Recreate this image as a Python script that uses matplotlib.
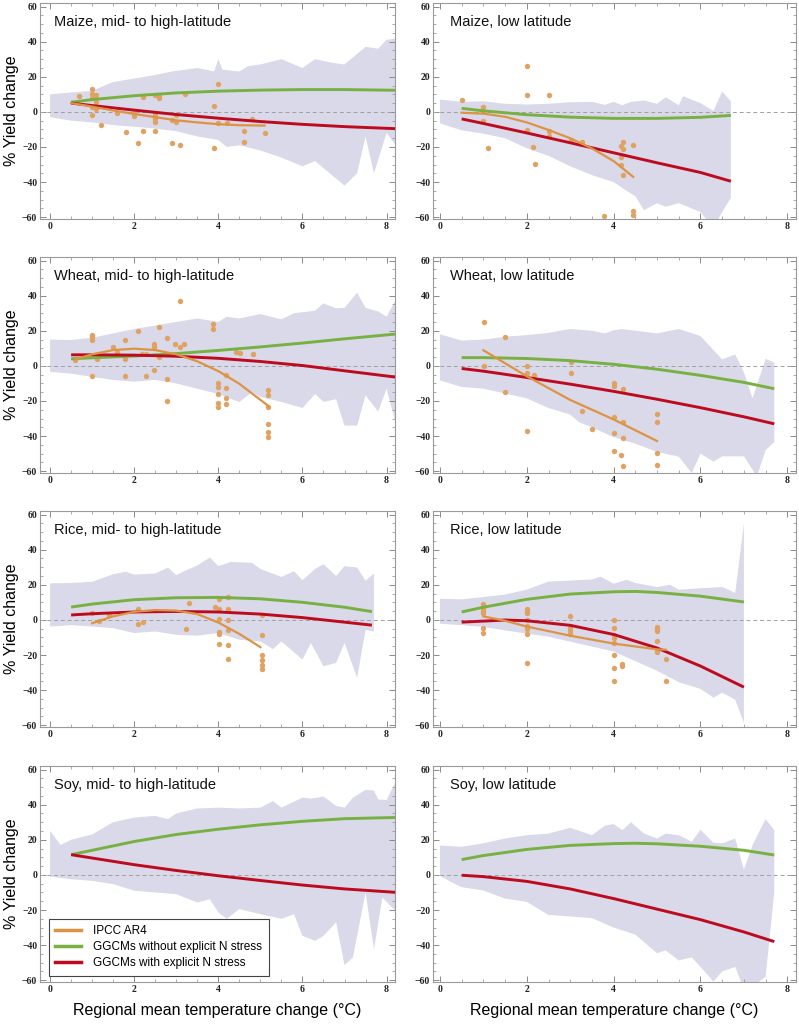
import numpy as np
import matplotlib
matplotlib.use("Agg")
from matplotlib import pyplot as plt
from matplotlib.ticker import MultipleLocator

# colours
band_col = '#d9d9ea'
green = '#78b041'
red = '#bd0a1e'
dot_col = '#e0a263'
ipcc_col = '#dc9444'

# ---------------- Maize, mid- to high-latitude ----------------
m1_hx = [0, 0.5, 1, 1.5, 2, 2.5, 2.9, 3.5, 3.9, 4.0, 4.1, 4.5, 4.7, 5, 5.5, 6, 6.3, 6.7, 7, 7.3, 7.5, 7.8, 8, 8.25]
m1_hi = [10, 11, 12, 17, 19, 21, 23, 25, 23, 30, 24, 23, 26, 27, 30, 25, 30, 28, 27, 33, 37, 36, 41, 42]
m1_lx = [0, 0.5, 1, 1.5, 2, 2.5, 3, 3.5, 4, 4.2, 4.5, 5, 5.5, 6, 6.3, 6.5, 7, 7.3, 7.5, 7.7, 8, 8.25]
m1_lo = [-3, -5, -6, -7.5, -8.5, -9.5, -11, -14, -16, -20, -19, -22, -26, -31, -28, -32, -42, -35, -14, -35, -12, -20]
m1_cx = [0.5, 1, 2, 3, 4, 5, 6, 7, 8.25]
m1_green = [5.5, 7, 9.2, 10.8, 11.8, 12.4, 12.7, 12.7, 12.3]
m1_red = [5, 3.6, 1, -1.5, -3.6, -5.5, -7.1, -8.4, -9.6]
m1_ix = [0.5, 1, 1.5, 2, 2.5, 3, 3.5, 4, 4.5, 5.1]
m1_ipcc = [5, 3, 0.8, -1.2, -3, -4.8, -6, -7, -7.6, -7.8]
m1_px = [0.69, 1.0, 1.0, 1.0, 1.0, 1.0, 1.1, 1.1, 1.1, 1.2, 1.6, 1.8, 2.0, 2.0, 2.1, 2.2, 2.2,
         2.5, 2.5, 2.5, 2.5, 2.5, 2.6, 2.6, 2.9, 2.9, 3.0, 3.0, 3.1, 3.2, 3.9, 3.9, 4.0, 4.0,
         4.2, 4.6, 4.6, 4.8, 5.1]
m1_py = [9.1, 13.3, 10.4, 8.1, 2.5, -1.9, 9.5, 5.7, 1.9, -7.2, -0.9, -11.7, -0.6, -2.5, -18, 8.5, -11,
         9.5, -1.9, -3.8, -5.7, -10.9, 9.1, 8.1, -17.6, -4.7, -1.9, -5.7, -18.6, 10.4, 3.2, -20.3, 15.7, -6.2,
         -6.6, -10.9, -17, -3.8, -12.3]

# ---------------- Maize, low latitude ----------------
m2_hx = [0, 0.5, 1, 1.5, 2, 2.5, 3, 3.5, 3.8, 4, 4.2, 4.4, 4.7, 5, 5.2, 5.5, 5.6, 6, 6.3, 6.5, 6.7]
m2_hi = [7, 5.7, 6, 4.6, 4.2, 4.6, 5.5, 5.7, 4, 5.7, 3.8, 5.7, 6.5, 4.6, 8.3, 3.8, 8.9, 5, 0.5, 11.6, 6]
m2_lx = [0, 0.5, 1, 1.5, 2, 2.5, 3, 3.5, 4, 4.3, 4.5, 4.7, 5, 5.2, 5.5, 6, 6.3, 6.5, 6.7]
m2_lo = [-6.5, -10.5, -12.4, -15, -20.7, -25, -31, -36, -40, -45, -48, -56, -52, -54, -52, -57, -66, -57, -49]
m2_cx = [0.5, 1, 2, 3, 4, 5, 6, 6.7]
m2_green = [2, 0.6, -1.6, -3, -3.7, -3.7, -3.1, -2]
m2_red = [-4, -6.6, -12, -17.6, -23.3, -29, -34.5, -39.5]
m2_ix = [0.5, 1, 1.5, 2, 2.5, 3, 3.5, 4, 4.45]
m2_ipcc = [-0.5, -1, -2.8, -6, -10.3, -15, -20.8, -28, -37]
m2_px = [0.5, 1.0, 1.0, 1.1, 2.0, 2.0, 2.0, 2.15, 2.2, 2.5, 2.5, 2.5, 3.02, 3.28, 3.78,
         4.16, 4.21, 4.21, 4.16, 4.18, 4.21, 4.45, 4.45, 4.45]
m2_py = [6.5, 3, -5, -20.7, 26, 9.4, -10.5, -20, -29.7, 9.8, -11, -13.8, -16, -17.4, -59.4,
         -19.4, -17.4, -21.2, -25.5, -30.3, -35.8, -18.8, -56.3, -58.5]

# ---------------- Wheat, mid- to high-latitude ----------------
w1_hx = [0, 0.5, 1, 1.5, 2, 2.5, 3, 3.5, 4, 4.2, 4.5, 5, 5.5, 5.8, 6.3, 6.5, 6.8, 7, 7.3, 7.5, 7.8, 8, 8.25]
w1_hi = [15, 14.7, 16, 18.5, 21, 23, 25, 27, 25, 28, 27, 29.5, 26.5, 30, 31.4, 35.6, 32.8, 33, 41.7, 33, 31, 28, 39]
w1_lx = [0, 0.5, 1, 1.5, 2, 2.5, 3, 3.5, 4, 4.5, 4.8, 5, 5.5, 6, 6.3, 6.5, 6.8, 7, 7.3, 7.5, 7.8, 8, 8.25]
w1_lo = [-3.4, -4.4, -6.3, -8, -9, -8, -10, -13, -16, -20.6, -15, -17.7, -20.5, -24, -16, -20.5, -19, -34, -34,
         -16.8, -26, -13, -36]
w1_cx = [0.5, 1, 2, 3, 4, 5, 6, 7, 8.25]
w1_green = [4, 4.6, 5.6, 7, 8.8, 10.8, 13, 15.4, 18.2]
w1_red = [6.3, 6.3, 6.1, 5.5, 4.3, 2.5, 0.2, -2.8, -6.5]
w1_ix = [0.6, 1, 1.5, 2, 2.5, 3, 3.5, 4, 4.5, 5.2]
w1_ipcc = [3.8, 6.6, 9, 9.8, 9, 6.6, 2.6, -3, -10.2, -23]
w1_px = [0.59, 0.99, 0.99, 0.99, 0.99, 1.12, 1.49, 1.58, 1.79, 1.79, 1.79, 2.09, 2.19, 2.28, 2.28,
         2.48, 2.48, 2.48, 2.58, 2.58, 2.78, 2.78, 2.78, 2.98, 3.08, 3.08, 3.19, 3.88, 3.88,
         3.98, 3.98, 3.98, 3.98, 3.98, 4.18, 4.18, 4.18, 4.18, 4.43, 4.52, 4.82,
         5.18, 5.18, 5.18, 5.18, 5.18, 5.18]
w1_py = [3.6, 17.5, 16.6, 15, -5.9, 4.2, 10.9, 8, 15, 4.2, -5.9, 20, 6.5, -5.9, 6.5,
         12.4, 10.9, -2.5, 22.3, 4.8, 15.6, -7.2, -20, 12.4, 10.9, 37.1, 12.4, 23.6, 20.8,
         -10, -12, -16.2, -21.1, -23.4, -5.3, -12.4, -18.1, -21.5, 8, 7.4, 7,
         -13.9, -16.8, -23.4, -33, -37.7, -40.6]

# ---------------- Wheat, low latitude ----------------
w2_hx = [0, 0.5, 1, 1.5, 2, 2.5, 3, 3.5, 3.8, 4, 4.2, 4.5, 5, 5.5, 6, 6.5, 6.8, 7, 7.2, 7.5, 7.7]
w2_hi = [18, 14.4, 15, 16.6, 17.5, 18.8, 21, 20, 18.5, 20.3, 21, 20, 18.5, 21, 17, 3.7, 6.5, -3.7, -18.5, 4, 1.8]
w2_lx = [0, 0.5, 1, 1.5, 2, 2.5, 3, 3.2, 3.5, 4, 4.5, 5, 5.5, 5.8, 6, 6.3, 6.5, 7, 7.3, 7.5, 7.7]
w2_lo = [-8.3, -12, -13, -15.7, -18.5, -24, -27.7, -32, -35, -40.6, -44.3, -49, -51.7, -61, -50, -54.5,
         -51.5, -51.5, -63, -48, -43.4]
w2_cx = [0.5, 1, 2, 3, 4, 5, 6, 7, 7.7]
w2_green = [4.7, 4.7, 4.2, 3, 0.9, -1.9, -5.4, -9.4, -13]
w2_red = [-1.5, -3, -6.6, -10.4, -14.5, -19, -23.8, -29, -33]
w2_ix = [1, 2, 3, 4, 5]
w2_ipcc = [8.9, -5.9, -19.4, -30.5, -42.8]
w2_px = [1.02, 1.02, 1.5, 1.5, 2.0, 2.0, 2.0, 2.16, 3.02, 3.02, 3.28, 3.51, 4.0, 4.0, 4.0, 4.0, 4.0,
         4.17, 4.21, 4.21, 4.21, 4.21, 5.0, 5.0, 5.0, 5.0]
w2_py = [25, 0, 16.2, -14.8, 0, -4, -37, -5, 2.2, -4, -25.8, -35.8, -10, -11.6, -29, -38.2, -48.2,
         -50.8, -12.9, -32, -41, -57.2, -27.3, -32.1, -49.8, -56.3]

# ---------------- Rice, mid- to high-latitude ----------------
r1_hx = [0, 0.5, 1, 1.5, 1.8, 2, 2.5, 2.8, 3, 3.3, 3.5, 3.8, 4, 4.3, 4.8, 5, 5.5, 5.8, 6, 6.3, 6.5, 6.8, 7,
         7.3, 7.5, 7.7]
r1_hi = [20.8, 21, 21.7, 26, 27.4, 25.8, 26.4, 29.8, 25.5, 29, 31, 35.5, 30.6, 33, 32.5, 29, 24.5, 27.7, 22.6,
         29, 31.7, 25, 30.6, 29.8, 22.3, 26.4]
r1_lx = [0, 0.5, 1, 1.5, 2, 2.5, 3, 3.5, 4, 4.5, 5, 5.3, 5.5, 6, 6.2, 6.5, 6.8, 7, 7.3, 7.5, 7.7]
r1_lo = [-3.8, -3, -3.8, -4.7, -7.5, -6.6, -8.5, -9, -7.5, -11.3, -12.3, -16.6, -12.3, -22.6, -13.2, -26.4,
         -24.5, -13.2, -33, -5.7, -6.6]
r1_cx = [0.5, 1, 2, 3, 4, 5, 6, 7, 7.65]
r1_green = [7.3, 9, 11.5, 12.6, 12.8, 12, 10, 7.2, 4.7]
r1_red = [2.8, 3.5, 4.5, 4.8, 4.5, 3.3, 1.3, -1.3, -3]
r1_ix = [1, 1.5, 2, 2.5, 3, 3.5, 4, 4.5, 5]
r1_ipcc = [-1.9, 2, 4.6, 5.6, 5.3, 3.3, -1.5, -8, -15.5]
r1_px = [1.0, 1.16, 1.41, 2.1, 2.1, 2.22, 3.22, 3.31, 3.91, 4.01, 4.01, 4.01, 4.01, 4.01, 4.01,
         4.22, 4.22, 4.22, 4.22, 4.22, 4.22, 5.03, 5.03, 5.03, 5.03, 5.03, 5.03]
r1_py = [3.8, -0.6, 2.6, 6, -2.3, -1.1, -5.1, 9.8, 7.5, 11.7, 6, 0.6, -7, -7.9, -13.8,
         12.8, 6, 0, -5.7, -14.5, -22, 2.8, -8.5, -19.8, -22.6, -25.5, -27.9]

# ---------------- Rice, low latitude ----------------
r2_hx = [0, 0.5, 1, 1.5, 2, 2.5, 3, 3.5, 3.7, 4, 4.3, 4.5, 5, 5.3, 5.5, 6, 6.5, 6.8, 7.0]
r2_hi = [12, 11.7, 13, 14.4, 17.2, 21.8, 22.4, 23, 24.6, 20.6, 22.8, 21, 18.7, 20, 17.2, 18, 18.7, 15.4, 55]
r2_lx = [0, 0.5, 1, 1.5, 2, 2.5, 3, 3.5, 4, 4.5, 5, 5.5, 6, 6.3, 6.5, 6.8, 7.0]
r2_lo = [-2.2, -3, -4, -6, -7.8, -9.6, -12.4, -15.2, -18, -23.5, -29, -35.5, -39.3, -44.3, -41.5, -45.4, -58.7]
r2_gx = [0.5, 1, 2, 3, 4, 4.5, 5, 6, 7]
r2_green = [4.5, 7.2, 11.7, 14.7, 16, 16.2, 15.6, 13.5, 10.2]
r2_rx = [0.5, 1, 1.5, 2, 3, 4, 5, 6, 7]
r2_red = [-1.3, -0.7, -0.1, -0.5, -3.1, -8.3, -16, -26.3, -38.3]
r2_ix = [1, 1.5, 2, 3, 4, 5, 5.2]
r2_ipcc = [2, -0.5, -3.8, -9, -13.5, -16.8, -17]
r2_px = [1.0, 1.0, 1.0, 1.0, 1.0, 1.0, 1.0, 2.0, 2.0, 2.0, 2.0, 2.0, 2.0, 2.0, 2.0,
         3.0, 3.0, 3.0, 3.0, 4.0, 4.0, 4.0, 4.0, 4.0, 4.0, 4.0, 4.0, 4.2, 4.2,
         5.0, 5.0, 5.0, 5.0, 5.0, 5.0, 5.2, 5.2]
r2_py = [9.3, 8, 6.5, 5.2, 3.9, -4.6, -7.2, 6.1, 5.2, 3.9, 0, -3.5, -5.4, -8.1, -24.8,
         2, -4.6, -6.3, -7.8, 0, -4.6, -8.7, -10.5, -13, -19.8, -27.2, -35, -25, -26.1,
         -4, -5.4, -6.5, -12, -18.3, -17.6, -22, -35]

# ---------------- Soy, mid- to high-latitude ----------------
s1_hx = [0, 0.25, 0.5, 1, 1.5, 2, 2.5, 2.8, 3, 3.5, 4, 4.5, 5, 5.3, 5.5, 6, 6.2, 6.5, 6.8, 7, 7.2, 7.5,
         7.7, 7.8, 8, 8.25]
s1_hi = [25, 17, 20, 23, 30, 32.6, 33.6, 31.7, 35, 37.8, 38.3, 37.8, 38.3, 42, 38.3, 44, 43.4, 44.6, 39.3,
         38.3, 44, 48.4, 48, 43, 42.6, 54.5]
s1_lx = [0, 0.5, 1, 1.5, 2, 2.5, 3, 3.5, 3.8, 4, 4.2, 4.5, 5, 5.5, 5.8, 6, 6.3, 6.5, 6.8, 7, 7.2, 7.5,
         7.7, 7.9, 8.25]
s1_lo = [-1, -2.5, -3.4, -5.3, -9, -10, -11, -15.7, -13.9, -21.4, -25, -19.5, -22.4, -25, -22.4, -34.7,
         -37.6, -34.7, -27, -51.4, -47, -10, -42.3, -12.9, -21.4]
s1_cx = [0.5, 1, 2, 3, 4, 5, 6, 7, 8.25]
s1_green = [11.5, 14, 19, 23, 26, 28.5, 30.5, 32, 32.7]
s1_red = [11.5, 9.6, 5.8, 2.5, -0.5, -3.2, -5.8, -8, -10]

# ---------------- Soy, low latitude ----------------
s2_hx = [0, 0.5, 1, 1.5, 2, 2.5, 3, 3.5, 3.8, 4, 4.2, 4.4, 4.7, 5, 5.2, 5.5, 5.8, 6, 6.3, 6.5, 6.8, 7,
         7.2, 7.5, 7.7]
s2_hi = [16.7, 16, 18, 20.7, 22.6, 23.5, 26.8, 22.6, 28, 29, 25.4, 30, 23.5, 20.7, 23.5, 22.6, 18.9, 25.7,
         18.3, 18, 20.7, 3, 17, 31.8, 25.4]
s2_lx = [0, 0.25, 0.5, 1, 1.5, 2, 2.5, 3, 3.5, 4, 4.5, 5, 5.2, 5.5, 5.8, 6, 6.3, 6.5, 6.8, 7, 7.3, 7.5, 7.7]
s2_lo = [-0.5, -4, -7, -8.9, -13.5, -15.4, -22.8, -23.7, -24.6, -30, -34, -44.6, -43, -48.7, -47, -52.4,
         -60.7, -55, -52.4, -65, -61.7, -58, -9.8]
s2_gx = [0.5, 1, 2, 3, 4, 4.5, 5, 6, 7, 7.7]
s2_green = [8.7, 11, 14.5, 16.8, 17.8, 18, 17.7, 16.3, 14, 11.3]
s2_rx = [0.5, 1, 2, 3, 4, 5, 6, 7, 7.7]
s2_red = [-0.2, -1, -3.7, -8, -13.5, -19.5, -25.5, -32.5, -38]

titles = ["Maize, mid- to high-latitude", "Maize, low latitude",
          "Wheat, mid- to high-latitude", "Wheat, low latitude",
          "Rice, mid- to high-latitude", "Rice, low latitude",
          "Soy, mid- to high-latitude", "Soy, low latitude"]

panels = [
    (m1_hx, m1_hi, m1_lx, m1_lo, m1_cx, m1_green, m1_cx, m1_red, m1_ix, m1_ipcc, m1_px, m1_py),
    (m2_hx, m2_hi, m2_lx, m2_lo, m2_cx, m2_green, m2_cx, m2_red, m2_ix, m2_ipcc, m2_px, m2_py),
    (w1_hx, w1_hi, w1_lx, w1_lo, w1_cx, w1_green, w1_cx, w1_red, w1_ix, w1_ipcc, w1_px, w1_py),
    (w2_hx, w2_hi, w2_lx, w2_lo, w2_cx, w2_green, w2_cx, w2_red, w2_ix, w2_ipcc, w2_px, w2_py),
    (r1_hx, r1_hi, r1_lx, r1_lo, r1_cx, r1_green, r1_cx, r1_red, r1_ix, r1_ipcc, r1_px, r1_py),
    (r2_hx, r2_hi, r2_lx, r2_lo, r2_gx, r2_green, r2_rx, r2_red, r2_ix, r2_ipcc, r2_px, r2_py),
    (s1_hx, s1_hi, s1_lx, s1_lo, s1_cx, s1_green, s1_cx, s1_red, None, None, None, None),
    (s2_hx, s2_hi, s2_lx, s2_lo, s2_gx, s2_green, s2_rx, s2_red, None, None, None, None),
]

fig = plt.figure(figsize=(7.99, 10.26), dpi=100)
W, H = 799.0, 1026.0
col_left = [40, 433]
col_right = [395, 796]
row_top = [3, 257, 511, 766]
ax_h = 216
xlims = [(-0.24, 8.2), (-0.16, 8.2)]

for k, p in enumerate(panels):
    hx, hi, lx, lo, gx, gy, rx, ry, ix, iy, px, py = p
    r, c = divmod(k, 2)
    ax = fig.add_axes([col_left[c] / W, 1 - (row_top[r] + ax_h) / H,
                       (col_right[c] - col_left[c]) / W, ax_h / H])
    ax.fill(np.r_[hx, lx[::-1]], np.r_[hi, lo[::-1]], color=band_col, lw=0, zorder=1)
    ax.axhline(0, color='#a0a0a0', lw=0.7, ls=(0, (4, 3)), zorder=2)
    if px is not None:
        ax.scatter(px, py, s=15, color=dot_col, lw=0, zorder=3)
    ax.plot(gx, gy, color=green, lw=2.1, zorder=4, solid_capstyle='butt')
    ax.plot(rx, ry, color=red, lw=2.1, zorder=4, solid_capstyle='butt')
    if ix is not None:
        ax.plot(ix, iy, color=ipcc_col, lw=1.6, zorder=5)

    ax.set_xlim(*xlims[c])
    ax.set_ylim(-61, 62)
    ax.xaxis.set_major_locator(MultipleLocator(2))
    ax.xaxis.set_minor_locator(MultipleLocator(0.5))
    ax.yaxis.set_major_locator(MultipleLocator(20))
    ax.yaxis.set_minor_locator(MultipleLocator(5))
    ax.tick_params(which='both', direction='in', top=True, right=True,
                   color='#8a8a8a', labelsize=7, pad=2)
    ax.tick_params(which='major', length=4, width=0.7)
    ax.tick_params(which='minor', length=2, width=0.5)
    for lab in ax.get_xticklabels() + ax.get_yticklabels():
        lab.set_family('Liberation Serif')
        lab.set_fontweight('bold')
        lab.set_color('#222222')
    for s in ax.spines.values():
        s.set_color('#9a9a9a')
        s.set_linewidth(0.8)

    ax.text(0.04 if c == 0 else 0.047, 0.91, titles[k], transform=ax.transAxes,
            fontsize=10.5, family='Liberation Sans', va='center', ha='left', color='#111111')
    if c == 0:
        ax.set_ylabel("% Yield change", fontsize=11.5, family='Liberation Sans', labelpad=2)
    if r == 3:
        ax.set_xlabel("Regional mean temperature change (\u00b0C)", fontsize=11.5,
                      family='Liberation Sans', labelpad=7)
    if k == 6:
        h1, = ax.plot([], [], color=ipcc_col, lw=2.5)
        h2, = ax.plot([], [], color=green, lw=2.5)
        h3, = ax.plot([], [], color=red, lw=2.5)
        leg = ax.legend([h1, h2, h3], ["IPCC AR4", "GGCMs without explicit N stress",
                                       "GGCMs with explicit N stress"],
                        loc='lower left', bbox_to_anchor=(0.025, 0.028), borderaxespad=0,
                        fancybox=False, framealpha=1, edgecolor='#444444',
                        prop={'family': 'Liberation Sans', 'size': 8.5},
                        handlelength=2.2, labelspacing=0.35, handletextpad=1.0,
                        borderpad=0.55)
        leg.get_frame().set_linewidth(0.8)

fig.savefig("out.png", dpi=100)
